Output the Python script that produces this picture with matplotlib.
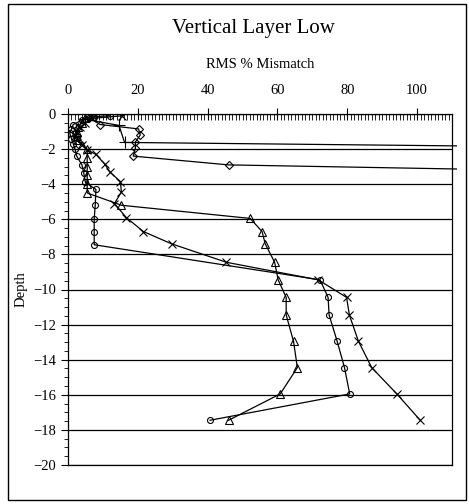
import matplotlib
matplotlib.use('Agg')
import matplotlib.pyplot as plt
from matplotlib.patches import Rectangle
from matplotlib.ticker import MultipleLocator

plt.rcParams['font.family'] = ['Liberation Serif', 'DejaVu Serif']

# RMS % mismatch (x) against depth (y)
circle_x = [12, 7.5, 4, 1.5, 1, 0.5, 1, 1.5, 2, 2.5, 4, 4.5, 5, 8, 7.8, 7.5, 7.5, 7.5,
            72.2, 74.5, 74.8, 77.1, 79.2, 80.7, 40.7]
circle_y = [-0.1, -0.15, -0.35, -0.6, -0.85, -1.1, -1.4, -1.7, -2.0, -2.4, -2.9, -3.35, -3.9,
            -4.3, -5.2, -6.0, -6.7, -7.45, -9.45, -10.45, -11.45, -12.95, -14.45, -15.95, -17.45]

cross_x = [15.6, 7, 5, 3.5, 2.5, 2, 2.5, 4, 5.5, 8, 10.5, 12, 15, 15.3, 13.3, 16.7, 21.6, 29.7,
           45.4, 71.7, 79.8, 80.6, 83.2, 87, 94.2, 100.9]
cross_y = [-0.1, -0.25, -0.5, -0.75, -1.0, -1.25, -1.5, -1.75, -2.05, -2.3, -2.85, -3.3, -3.85,
           -4.45, -5.1, -5.9, -6.7, -7.4, -8.45, -9.45, -10.45, -11.45, -12.95, -14.45, -15.95, -17.45]

tri_x = [7, 5, 4, 3, 2.5, 2.5, 3, 4, 5.5, 5.5, 5.5, 5.5, 5.5, 5.5, 15.3, 52.2, 55.6, 56.5,
         59.2, 60.2, 62.5, 62.5, 64.6, 65.7, 60.8, 46]
tri_y = [-0.1, -0.25, -0.5, -0.75, -1.0, -1.25, -1.5, -1.75, -2.0, -2.5, -3.0, -3.5, -4.0, -4.5,
         -5.2, -5.95, -6.7, -7.4, -8.45, -9.45, -10.45, -11.45, -12.95, -14.45, -15.95, -17.45]

diamond_x = [6, 9.2, 20.2, 20.7, 19.3, 19.3, 18.7, 46, 200]
diamond_y = [-0.2, -0.6, -0.85, -1.2, -1.6, -1.95, -2.4, -2.9, -3.45]

plus_x = [5, 14.6, 16.2, 200]
plus_y = [-0.3, -0.65, -1.62, -2.0]

fig = plt.figure(figsize=(4.69, 5.04), dpi=100)
ax = fig.add_axes([68 / 469, 1 - 465 / 504, (452 - 68) / 469, (465 - 114) / 504])

# frame round the whole chart
fig.patches.append(Rectangle((8 / 469, 1 - 500 / 504), 458 / 469, 496 / 504,
                             transform=fig.transFigure, fill=False, edgecolor='black', lw=1.0))

# lines running off to the right stop just past the plot edge
clip = Rectangle((0, 0), 1.013, 1, transform=ax.transAxes)

series = [
    (circle_x, circle_y, 'o', 4.3),
    (cross_x, cross_y, 'x', 6),
    (tri_x, tri_y, '^', 5.3),
    (diamond_x, diamond_y, 'D', 4),
    (plus_x, plus_y, '+', 8),
]
for xs, ys, m, ms in series:
    line, = ax.plot(xs, ys, color='black', lw=0.9, marker=m, ms=ms,
                    mfc='none', mec='black', mew=0.8)
    line.set_clip_path(clip)

ax.set_xlim(0, 110)
ax.set_ylim(-20, 0)
ax.xaxis.tick_top()
ax.xaxis.set_major_locator(MultipleLocator(20))
ax.xaxis.set_minor_locator(MultipleLocator(1))
ax.yaxis.set_major_locator(MultipleLocator(2))
ax.yaxis.set_minor_locator(MultipleLocator(0.5))
ax.tick_params(axis='x', which='major', direction='inout', length=9, width=0.8,
               labelsize=10.5, pad=8)
ax.tick_params(axis='x', which='minor', direction='in', length=4, width=0.6)
ax.tick_params(axis='y', which='major', direction='out', length=5, width=0.8, labelsize=10.5)
ax.tick_params(axis='y', which='minor', direction='out', length=3, width=0.6)
ax.grid(True, axis='y', which='major', color='black', lw=0.9)
ax.set_axisbelow(True)
for s in ax.spines.values():
    s.set_linewidth(0.9)

fig.text(253 / 469, 1 - 29 / 504, 'Vertical Layer Low', ha='center', va='center', fontsize=15)
fig.text(260 / 469, 1 - 65 / 504, 'RMS % Mismatch', ha='center', va='center', fontsize=10.5)
ax.set_ylabel('Depth', fontsize=10.5, labelpad=4)

fig.savefig('out.png', dpi=100)
